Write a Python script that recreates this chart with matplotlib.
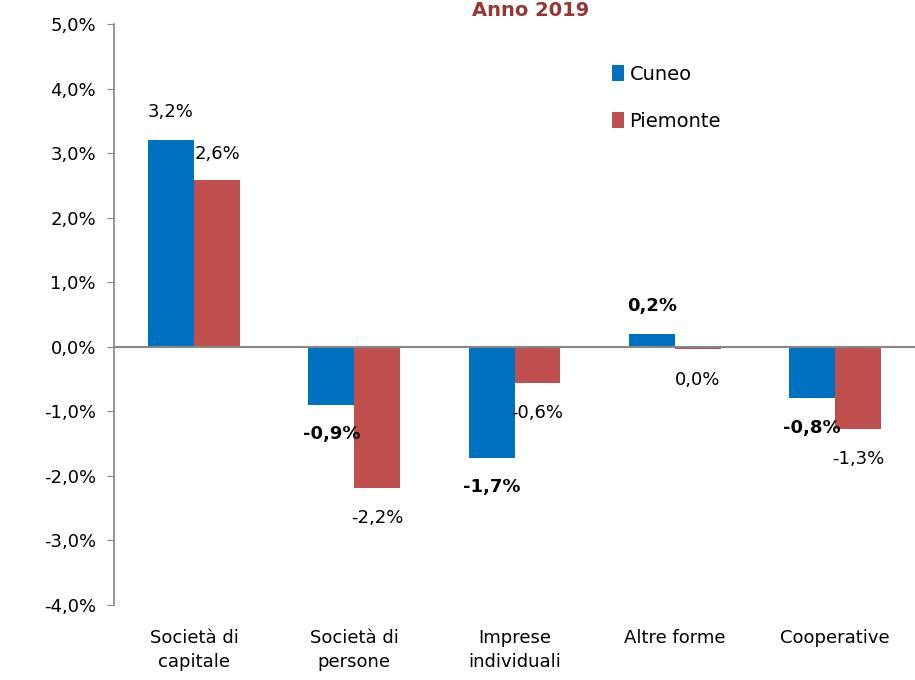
import matplotlib
matplotlib.use("Agg")
import matplotlib.pyplot as plt
import numpy as np

plt.rcParams['font.family'] = ['DejaVu Sans']

categories = ["Società di\ncapitale", "Società di\npersone", "Imprese\nindividuali", "Altre forme", "Cooperative"]
cuneo = [3.20, -0.90, -1.72, 0.20, -0.80]
piemonte = [2.58, -2.18, -0.56, -0.04, -1.27]
cuneo_bold = [False, True, True, True, True]
yticks = [-4, -3, -2, -1, 0, 1, 2, 3, 4, 5]

blue = "#0070C0"
red = "#C0504D"

fig = plt.figure(figsize=(9.15, 6.8), dpi=100)
ax = fig.add_axes([114/915, 1-605/680, 1-114/915, (605-24)/680])

x = np.arange(len(categories))
w = 0.287
ax.bar(x - w/2, cuneo, w, color=blue, label="Cuneo")
ax.bar(x + w/2, piemonte, w, color=red, label="Piemonte")

def fmt(v):
    r = round(v, 1) + 0.0
    return f"{r:.1f}".replace(".", ",") + "%"

for xi, v, bd in zip(x - w/2, cuneo, cuneo_bold):
    off = 20 if v >= 0 else -21
    ax.annotate(fmt(v), (xi, v), xytext=(0, off), textcoords="offset points",
                ha="center", va="center", fontsize=13,
                fontweight="bold" if bd else "normal")
for xi, v in zip(x + w/2, piemonte):
    off = 19 if v >= 0 else -22
    ax.annotate(fmt(v), (xi, v), xytext=(0, off), textcoords="offset points",
                ha="center", va="center", fontsize=13)

ax.set_xlim(-0.5, len(categories) - 0.5)
ax.set_ylim(-4, 5)
ax.set_yticks(yticks)
ax.set_yticklabels([f"{t:.1f}".replace(".", ",") + "%" for t in yticks], fontsize=13)
ax.set_xticks(x)
ax.set_xticklabels(categories, fontsize=13, linespacing=1.45)
ax.tick_params(axis='x', length=0, pad=17)
ax.tick_params(axis='y', length=5, color="#868686", pad=8)
ax.axhline(0, color="#868686", lw=1.5, zorder=3)

for s in ["top", "right", "bottom"]:
    ax.spines[s].set_visible(False)
ax.spines["left"].set_color("#868686")
ax.spines["left"].set_linewidth(1.2)

ax.legend(loc="upper left", bbox_to_anchor=(0.6, 0.96), frameon=False,
          fontsize=14, handlelength=0.6, handleheight=0.9, handletextpad=0.3,
          labelspacing=1.45)

fig.text(0.58, 0.999, "Anno 2019", ha="center", va="top", fontsize=14,
         fontweight="bold", color="#953735")

fig.savefig("out.png", dpi=100)
